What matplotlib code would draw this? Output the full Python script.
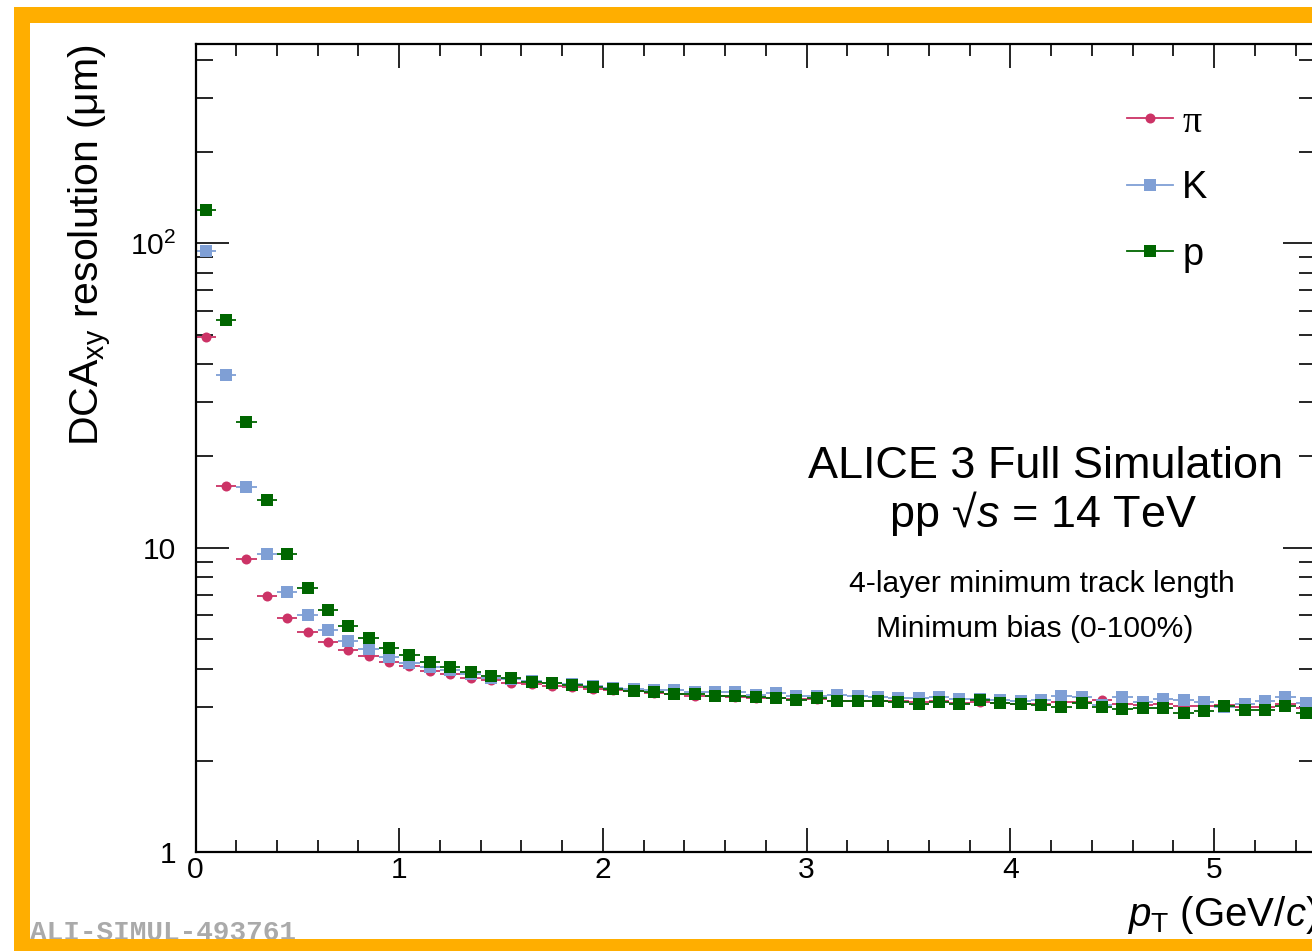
import numpy as np
import matplotlib
matplotlib.use("Agg")
import matplotlib.pyplot as plt
from matplotlib.lines import Line2D
from matplotlib.patches import Rectangle
from matplotlib.ticker import MultipleLocator, LogLocator, NullFormatter

plt.rcParams['font.family'] = ['Liberation Sans', 'DejaVu Sans']
plt.rcParams['mathtext.fontset'] = 'custom'
plt.rcParams['mathtext.rm'] = 'Liberation Sans'
plt.rcParams['mathtext.it'] = 'Liberation Sans:italic'
plt.rcParams['mathtext.bf'] = 'Liberation Sans:bold'

# pT bin centres (GeV/c), bin width 0.1
pt = np.arange(55) * 0.1 + 0.05
pt_err = 0.05

# DCA_xy resolution (um)
res_pi = [49.3, 15.9, 9.17, 6.93, 5.89, 5.29, 4.91, 4.63, 4.40, 4.22, 4.08,
          3.95, 3.85, 3.74, 3.69, 3.61, 3.58, 3.52, 3.48, 3.43, 3.40, 3.38,
          3.33, 3.30, 3.27, 3.25, 3.24, 3.22, 3.20, 3.18, 3.18, 3.15, 3.14,
          3.15, 3.13, 3.11, 3.14, 3.10, 3.12, 3.10, 3.08, 3.08, 3.12, 3.12,
          3.16, 3.08, 3.05, 3.06, 3.02, 3.02, 3.05, 3.00, 3.00, 3.06, 2.97]
res_K = [94.5, 36.9, 15.8, 9.55, 7.17, 6.03, 5.38, 4.96, 4.65, 4.38, 4.18,
         4.05, 3.98, 3.86, 3.74, 3.70, 3.65, 3.60, 3.57, 3.52, 3.47, 3.44,
         3.41, 3.41, 3.36, 3.36, 3.36, 3.28, 3.33, 3.26, 3.26, 3.28, 3.26,
         3.23, 3.21, 3.21, 3.23, 3.19, 3.19, 3.16, 3.14, 3.16, 3.26, 3.23,
         3.04, 3.23, 3.11, 3.19, 3.16, 3.11, 2.99, 3.07, 3.14, 3.23, 3.09]
res_p = [128.6, 55.9, 25.8, 14.3, 9.55, 7.40, 6.27, 5.54, 5.06, 4.69, 4.45,
         4.22, 4.06, 3.91, 3.78, 3.74, 3.62, 3.60, 3.53, 3.49, 3.44, 3.39,
         3.36, 3.31, 3.31, 3.26, 3.26, 3.24, 3.21, 3.16, 3.21, 3.14, 3.14,
         3.14, 3.11, 3.07, 3.11, 3.07, 3.16, 3.09, 3.07, 3.04, 3.00, 3.09,
         3.00, 2.95, 2.98, 2.98, 2.87, 2.91, 3.02, 2.93, 2.93, 3.02, 2.87]

labels = ['π', 'K', 'p']
colors = ['#CC3366', '#7F9FD5', '#006600']
markers = ['o', 's', 's']
msizes = [7.2, 8.0, 8.0]

W, H = 1312, 951
fig = plt.figure(figsize=(W / 100, H / 100), dpi=100)
fig.patch.set_facecolor('white')

x0, x1, y0, y1 = 195.5, 1316, 852.3, 44.3
ax = fig.add_axes([x0 / W, (H - y0) / H, (x1 - x0) / W, (y0 - y1) / H])

for res, c, mk, ms in zip([res_pi, res_K, res_p], colors, markers, msizes):
    ax.errorbar(pt, res, xerr=pt_err, fmt=mk, color=c, ms=ms, mew=0,
                elinewidth=1.3, capsize=0)

ax.set_xlim(0, 5.5)
ax.set_yscale('log')
ax.set_ylim(1, 450)

ax.xaxis.set_major_locator(MultipleLocator(1))
ax.xaxis.set_minor_locator(MultipleLocator(0.2))
ax.set_yticks([1, 10, 100], labels=['1', '10', '$10^{2}$'])
ax.yaxis.set_minor_locator(LogLocator(base=10, subs=np.arange(2, 10)))
ax.yaxis.set_minor_formatter(NullFormatter())

for s in ax.spines.values():
    s.set_linewidth(1.6)
ax.tick_params(which='both', direction='in', top=True, right=True,
               width=1.2, labelsize=21.6, color='black')
ax.tick_params(axis='y', which='major', length=23.8, pad=14)
ax.tick_params(axis='y', which='minor', length=12)
ax.tick_params(axis='x', which='major', length=17.3, pad=3)
ax.tick_params(axis='x', which='minor', length=8.6)

# axis titles
fig.text(99 / W, (H - 44) / H, 'DCA$_{\\mathrm{xy}}$ resolution (μm)',
         rotation=90, rotation_mode='anchor', ha='right', va='baseline',
         fontsize=29.5)
fig.text(1318 / W, (H - 926) / H, '$p_{\\mathrm{T}}$ (GeV/$c$)',
         ha='right', va='baseline', fontsize=29)

# legend
handles = [Line2D([], [], color=c, marker=mk, ms=ms, mew=0, lw=1.3)
           for c, mk, ms in zip(colors, markers, msizes)]
leg = ax.legend(handles, labels, loc='upper left',
                bbox_to_anchor=(1127 / W, (H - 105) / H),
                bbox_transform=fig.transFigure, frameon=False,
                fontsize=27.4, handlelength=1.21, handletextpad=0.24,
                labelspacing=0.8, borderpad=0, borderaxespad=0)
leg.get_texts()[0].set_family('Liberation Serif')

# annotations
fig.text(1045 / W, (H - 478) / H, 'ALICE 3 Full Simulation',
         ha='center', va='baseline', fontsize=32.4)
fig.text(1043 / W, (H - 527) / H, 'pp √$s$ = 14 TeV',
         ha='center', va='baseline', fontsize=32.4)
fig.text(1042 / W, (H - 592) / H, '4-layer minimum track length',
         ha='center', va='baseline', fontsize=21.6)
fig.text(1035 / W, (H - 637) / H, 'Minimum bias (0-100%)',
         ha='center', va='baseline', fontsize=21.6)

fig.text(30 / W, (H - 940) / H, 'ALI-SIMUL-493761', family='Liberation Mono',
         weight='bold', color='#aaaaaa', fontsize=20, ha='left',
         va='baseline', zorder=5)

# orange frame
orange = '#FFAE00'
for (rx, ry, rw, rh) in [(14, 7, W, 16), (14, 7, 16, H), (14, 939, W, 20)]:
    fig.add_artist(Rectangle((rx / W, 1 - (ry + rh) / H), rw / W, rh / H,
                             transform=fig.transFigure, color=orange,
                             lw=0, zorder=10))

fig.savefig('out.png', dpi=100)
